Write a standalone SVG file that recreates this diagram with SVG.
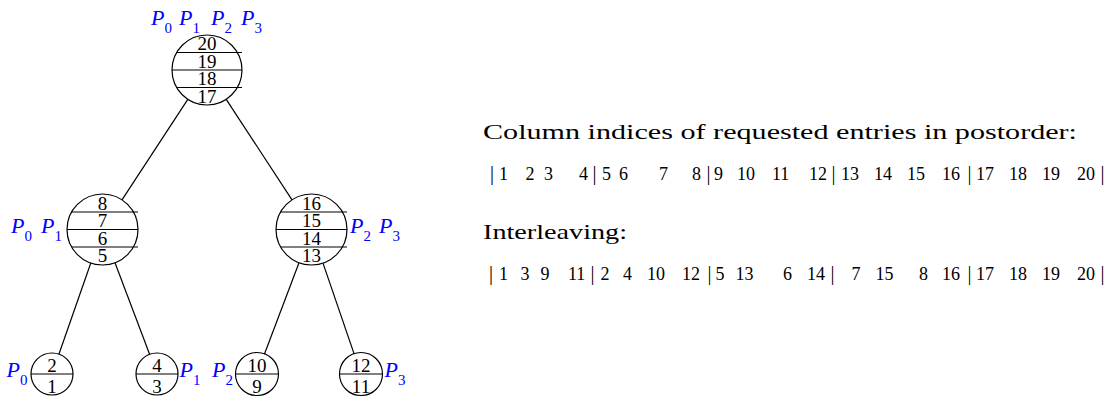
<svg xmlns="http://www.w3.org/2000/svg" width="1113" height="398" viewBox="0 0 1113 398">
<style>
.c{fill:none;stroke:#000;stroke-width:1.2}
.l{stroke:#000;stroke-width:1.2}
.n{font-family:"Liberation Serif",serif;font-size:19px;text-anchor:middle;fill:#000}
.p{font-family:"Liberation Serif",serif;font-style:italic;font-size:22px;fill:#0000ff}
.s{font-style:normal;font-size:15px}
.h{font-family:"Liberation Serif",serif;font-size:22px;fill:#000}
.r{font-family:"Liberation Serif",serif;font-size:18px;fill:#000}
.b{font-size:20px}
</style>
<rect width="1113" height="398" fill="#fff"/>
<g id="connectors">
<line class="l" x1="187.8" y1="99.3" x2="122" y2="199.8"/>
<line class="l" x1="226.2" y1="99.3" x2="292" y2="199.8"/>
<line class="l" x1="90.8" y1="263" x2="58.9" y2="354.2"/>
<line class="l" x1="115" y1="262.7" x2="149.6" y2="354.3"/>
<line class="l" x1="299" y1="262.7" x2="264.4" y2="354.3"/>
<line class="l" x1="323" y1="263.1" x2="354.2" y2="354.1"/>
</g>
<g id="node-root">
<circle class="c" cx="207" cy="70" r="35"/>
<line class="l" x1="176.7" y1="52.5" x2="242" y2="52.5"/>
<line class="l" x1="172" y1="70" x2="242" y2="70"/>
<line class="l" x1="176.7" y1="87.5" x2="242" y2="87.5"/>
<text class="n" x="207" y="50">20</text>
<text class="n" x="207" y="67.5">19</text>
<text class="n" x="207" y="85">18</text>
<text class="n" x="207" y="102.5">17</text>
<text class="p" x="151" y="25">P<tspan class="s" dy="8">0</tspan></text>
<text class="p" x="179" y="25">P<tspan class="s" dy="8">1</tspan></text>
<text class="p" x="211" y="25">P<tspan class="s" dy="8">2</tspan></text>
<text class="p" x="241" y="25">P<tspan class="s" dy="8">3</tspan></text>
</g>
<g id="node-left">
<circle class="c" cx="102.5" cy="229.5" r="35.5"/>
<line class="l" x1="71.8" y1="212" x2="138" y2="212"/>
<line class="l" x1="67" y1="229.5" x2="138" y2="229.5"/>
<line class="l" x1="71.8" y1="247" x2="138" y2="247"/>
<text class="n" x="102.5" y="209.5">8</text>
<text class="n" x="102.5" y="227">7</text>
<text class="n" x="102.5" y="244.5">6</text>
<text class="n" x="102.5" y="262">5</text>
<text class="p" x="11" y="233.3">P<tspan class="s" dy="8">0</tspan></text>
<text class="p" x="41" y="233.3">P<tspan class="s" dy="8">1</tspan></text>
</g>
<g id="node-right">
<circle class="c" cx="311.5" cy="229.5" r="35.5"/>
<line class="l" x1="280.8" y1="212" x2="347" y2="212"/>
<line class="l" x1="276" y1="229.5" x2="347" y2="229.5"/>
<line class="l" x1="280.8" y1="247" x2="347" y2="247"/>
<text class="n" x="311.5" y="209.5">16</text>
<text class="n" x="311.5" y="227">15</text>
<text class="n" x="311.5" y="244.5">14</text>
<text class="n" x="311.5" y="262">13</text>
<text class="p" x="350" y="233.3">P<tspan class="s" dy="8">2</tspan></text>
<text class="p" x="379" y="233.3">P<tspan class="s" dy="8">3</tspan></text>
</g>
<g id="leaf-1">
<circle class="c" cx="52" cy="374" r="21"/>
<line class="l" x1="31" y1="374" x2="73" y2="374"/>
<text class="n" x="52" y="371.5">2</text>
<text class="n" x="52" y="393">1</text>
<text class="p" x="6.5" y="377">P<tspan class="s" dy="8">0</tspan></text>
</g>
<g id="leaf-2">
<circle class="c" cx="157" cy="374" r="21"/>
<line class="l" x1="136" y1="374" x2="178" y2="374"/>
<text class="n" x="157" y="371.5">4</text>
<text class="n" x="157" y="393">3</text>
<text class="p" x="179.5" y="377">P<tspan class="s" dy="8">1</tspan></text>
</g>
<g id="leaf-3">
<circle class="c" cx="257" cy="374" r="21.5"/>
<line class="l" x1="235.5" y1="374" x2="278.5" y2="374"/>
<text class="n" x="257" y="371.5">10</text>
<text class="n" x="257" y="393">9</text>
<text class="p" x="212" y="377">P<tspan class="s" dy="8">2</tspan></text>
</g>
<g id="leaf-4">
<circle class="c" cx="361" cy="374" r="21.5"/>
<line class="l" x1="339.5" y1="374" x2="382.5" y2="374"/>
<text class="n" x="361" y="371.5">12</text>
<text class="n" x="361" y="393">11</text>
<text class="p" x="384.5" y="377">P<tspan class="s" dy="8">3</tspan></text>
</g>
<g id="text-postorder">
<text class="h" x="483" y="138.5" textLength="594" lengthAdjust="spacingAndGlyphs">Column indices of requested entries in postorder:</text>
<text class="r" y="180"><tspan class="b" x="490">|</tspan><tspan x="499">1</tspan><tspan x="525.5">2</tspan><tspan x="544">3</tspan><tspan x="579">4</tspan><tspan class="b" x="592.5">|</tspan><tspan x="602">5</tspan><tspan x="619">6</tspan><tspan x="659">7</tspan><tspan x="692">8</tspan><tspan class="b" x="706.5">|</tspan><tspan x="714">9</tspan><tspan x="737">10</tspan><tspan x="772">11</tspan><tspan x="809">12</tspan><tspan class="b" x="831.5">|</tspan><tspan x="841">13</tspan><tspan x="874">14</tspan><tspan x="907">15</tspan><tspan x="942">16</tspan><tspan class="b" x="967.5">|</tspan><tspan x="976">17</tspan><tspan x="1009">18</tspan><tspan x="1042">19</tspan><tspan x="1077">20</tspan><tspan class="b" x="1100.5">|</tspan></text>
</g>
<g id="text-interleaving">
<text class="h" x="483" y="238.5" textLength="144" lengthAdjust="spacingAndGlyphs">Interleaving:</text>
<text class="r" y="280"><tspan class="b" x="489">|</tspan><tspan x="499">1</tspan><tspan x="520.5">3</tspan><tspan x="540.5">9</tspan><tspan x="568">11</tspan><tspan class="b" x="590.5">|</tspan><tspan x="600.5">2</tspan><tspan x="623">4</tspan><tspan x="647">10</tspan><tspan x="682">12</tspan><tspan class="b" x="707.5">|</tspan><tspan x="715.5">5</tspan><tspan x="735.5">13</tspan><tspan x="783">6</tspan><tspan x="807">14</tspan><tspan class="b" x="830.5">|</tspan><tspan x="851.5">7</tspan><tspan x="875.5">15</tspan><tspan x="919">8</tspan><tspan x="942">16</tspan><tspan class="b" x="967.5">|</tspan><tspan x="976">17</tspan><tspan x="1009">18</tspan><tspan x="1042">19</tspan><tspan x="1077">20</tspan><tspan class="b" x="1100.5">|</tspan></text>
</g>
</svg>
